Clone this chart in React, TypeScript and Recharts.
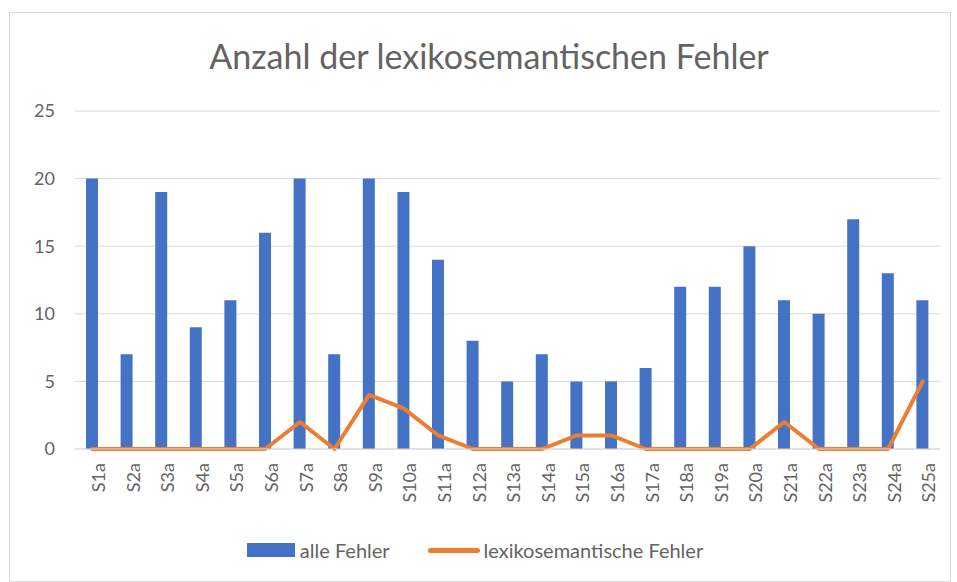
import { ComposedChart, Bar, Line, XAxis, YAxis, CartesianGrid, Legend } from "recharts";

const categories = [
  "S1a", "S2a", "S3a", "S4a", "S5a", "S6a", "S7a", "S8a", "S9a", "S10a",
  "S11a", "S12a", "S13a", "S14a", "S15a", "S16a", "S17a", "S18a", "S19a", "S20a",
  "S21a", "S22a", "S23a", "S24a", "S25a"
];
const alleFehler = [20, 7, 19, 9, 11, 16, 20, 7, 20, 19, 14, 8, 5, 7, 5, 5, 6, 12, 12, 15, 11, 10, 17, 13, 11];
const lexFehler = [0, 0, 0, 0, 0, 0, 2, 0, 4, 3, 1, 0, 0, 0, 1, 1, 0, 0, 0, 0, 2, 0, 0, 0, 5];
const yTicks = [0, 5, 10, 15, 20, 25];

const data = categories.map((name, i) => ({
  name,
  alle: alleFehler[i],
  lex: lexFehler[i]
}));

const FONT = "Lato, 'Open Sans', sans-serif";
const TEXT = "#636363";

function LegendContent() {
  return (
    <div style={{ display: "flex", justifyContent: "center", alignItems: "center", height: 24, fontFamily: FONT, fontSize: 20, color: TEXT }}>
      <span style={{ display: "inline-block", width: 48, height: 14, background: "#4472C4", marginRight: 5 }} />
      <span>alle Fehler</span>
      <span style={{ display: "inline-block", width: 52, height: 5, borderRadius: 3, background: "#ED7D31", marginLeft: 38, marginRight: 4 }} />
      <span>lexikosemantische Fehler</span>
    </div>
  );
}

export default function App() {
  return (
    <div style={{ position: "absolute", left: 9, top: 12, width: 940, height: 568, border: "1px solid #d9d9d9", background: "#fff" }}>
      <div style={{ position: "absolute", top: 22, left: 18, right: 0, textAlign: "center", fontFamily: FONT, fontSize: 34, color: TEXT }}>
        Anzahl der lexikosemantischen Fehler
      </div>
      <ComposedChart width={940} height={568} data={data} margin={{ top: 98, right: 10, bottom: 38, left: 0 }}>
        <CartesianGrid vertical={false} stroke="#d9d9d9" />
        <XAxis
          dataKey="name"
          interval={0}
          angle={-90}
          textAnchor="end"
          height={70}
          axisLine={{ stroke: "#d9d9d9" }}
          tickLine={false}
          tick={{ fill: TEXT, fontSize: 18, fontFamily: FONT }}
          tickMargin={8}
        />
        <YAxis
          domain={[0, 25]}
          ticks={yTicks}
          width={65}
          axisLine={false}
          tickLine={false}
          tick={{ fill: TEXT, fontSize: 18, fontFamily: FONT }}
          tickMargin={14}
        />
        <Legend
          verticalAlign="bottom"
          height={40}
          wrapperStyle={{ top: 525, height: 24, bottom: "auto" }}
          content={() => <LegendContent />}
        />
        <Bar dataKey="alle" fill="#4472C4" barSize={12} isAnimationActive={false} />
        <Line
          dataKey="lex"
          type="linear"
          stroke="#ED7D31"
          strokeWidth={4}
          strokeLinecap="round"
          strokeLinejoin="round"
          dot={false}
          activeDot={false}
          isAnimationActive={false}
        />
      </ComposedChart>
    </div>
  );
}
